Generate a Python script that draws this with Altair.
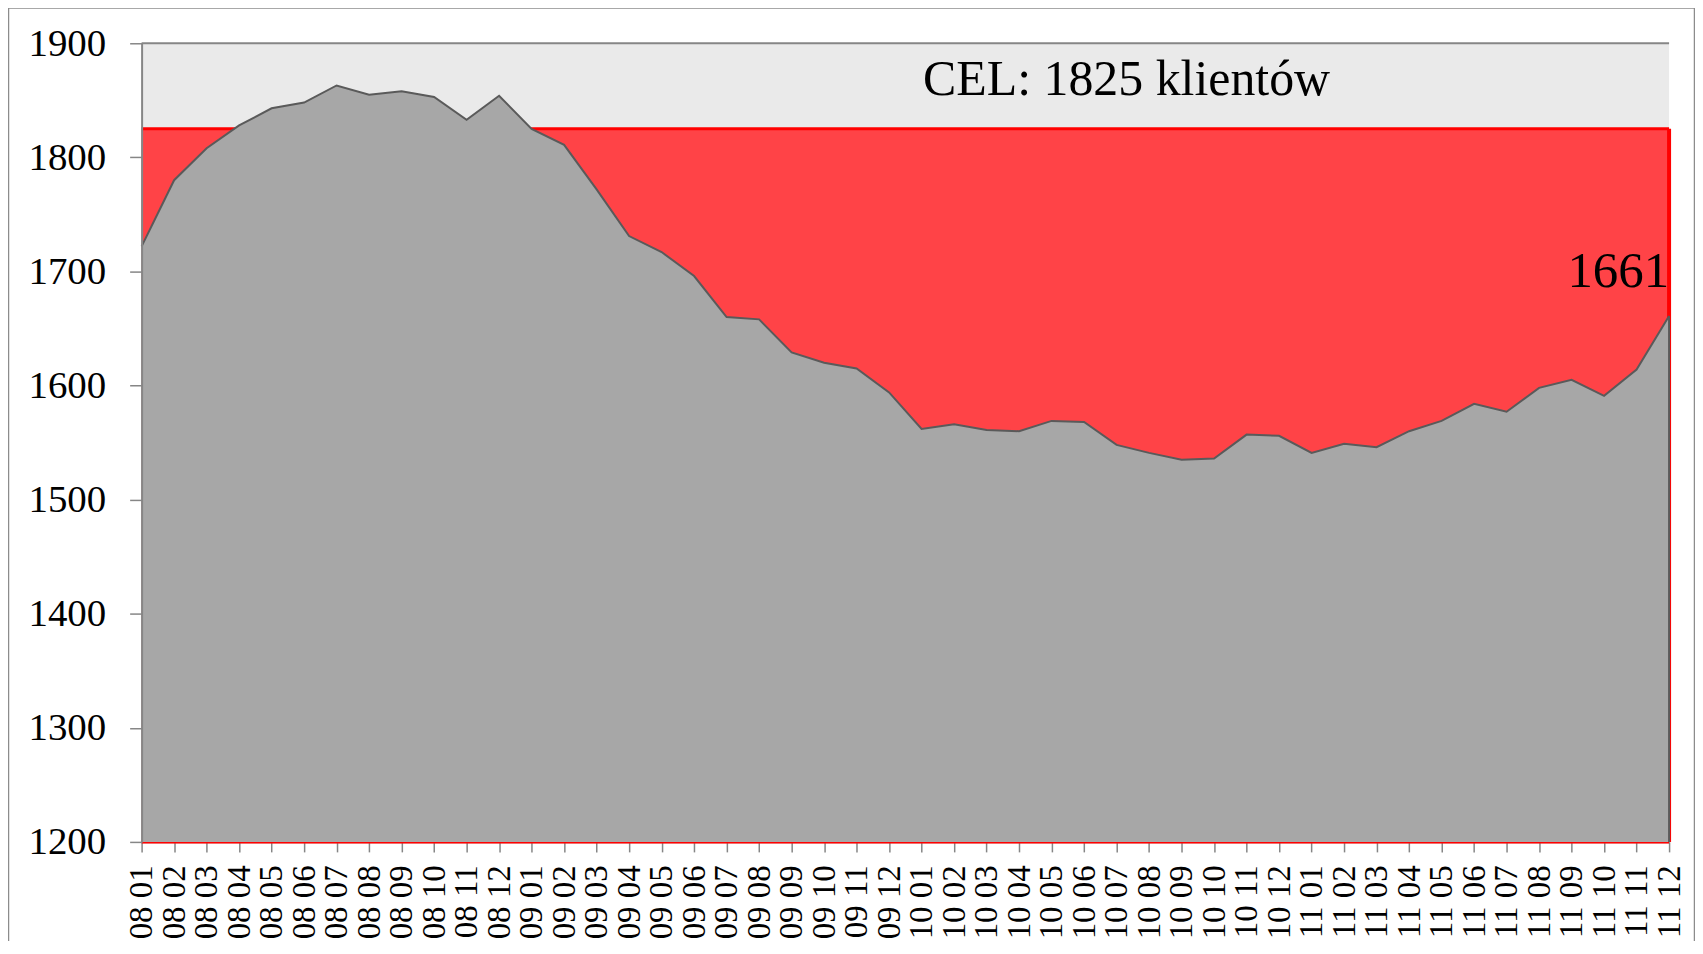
import altair as alt
import pandas as pd

# Categories: year-month labels from 08 01 to 11 12
months = [f"{y:02d} {m:02d}" for y in (8, 9, 10, 11) for m in range(1, 13)]

# Number of clients per month
clients = [
    1722, 1780, 1808, 1828, 1843, 1848, 1863, 1855, 1858, 1853, 1833, 1854,
    1825, 1811, 1772, 1731, 1717, 1696, 1660, 1658, 1629, 1620, 1615, 1594,
    1562, 1566, 1561, 1560, 1569, 1568, 1548, 1541, 1535, 1536, 1557, 1556,
    1541, 1549, 1546, 1560, 1569, 1584, 1577, 1598, 1605, 1591, 1614, 1661,
]

target = 1825
axis_min = 1200
axis_max = 1900
y_ticks = [1200, 1300, 1400, 1500, 1600, 1700, 1800, 1900]
target_label = "CEL: 1825 klientów"
target_label_month = "10 07"

df = pd.DataFrame({
    "month": months,
    "clients": clients,
    "target": [target] * len(months),
    "top": [axis_max] * len(months),
    "base": [axis_min] * len(months),
})
last = df.tail(1)

FONT = "Liberation Serif"
GRAY_AXIS = "#868686"
RED_LINE = "#FF0000"

x_enc = alt.X(
    "month:O",
    sort=months,
    scale=alt.Scale(type="point", padding=0),
    axis=alt.Axis(
        title=None,
        labelAngle=270,
        labelFont=FONT,
        labelFontSize=33,
        labelColor="#000000",
        labelPadding=13,
        labelOverlap=False,
        tickSize=10,
        tickColor=GRAY_AXIS,
        tickWidth=1.5,
        domainColor=GRAY_AXIS,
        domainWidth=1.5,
    ),
)
y_scale = alt.Scale(domain=[axis_min, axis_max], nice=False, zero=False)
y_axis = alt.Axis(
    title=None,
    values=y_ticks,
    format="d",
    labelFont=FONT,
    labelFontSize=39,
    labelColor="#000000",
    labelPadding=24,
    tickSize=12,
    tickColor=GRAY_AXIS,
    tickWidth=1.5,
    domainColor=GRAY_AXIS,
    domainWidth=2,
    grid=False,
    zindex=1,
)

base = alt.Chart(df)

band = base.mark_area(color="#EAEAEA").encode(
    x=x_enc, y=alt.Y("top:Q", scale=y_scale, axis=y_axis), y2="target:Q"
)
red = base.mark_area(color="#FF4347").encode(
    x=x_enc, y=alt.Y("target:Q", scale=y_scale), y2="base:Q"
)
red_top = alt.Chart(pd.DataFrame({"v": [target]})).mark_rule(
    color=RED_LINE, strokeWidth=3
).encode(y=alt.Y("v:Q", scale=y_scale))
red_bottom = alt.Chart(pd.DataFrame({"v": [axis_min]})).mark_rule(
    color=RED_LINE, strokeWidth=3
).encode(y=alt.Y("v:Q", scale=y_scale))
red_right = alt.Chart(last).mark_rule(color=RED_LINE, strokeWidth=4).encode(
    x=x_enc, y=alt.Y("target:Q", scale=y_scale), y2="base:Q"
)
gray = base.mark_area(color="#A7A7A7").encode(
    x=x_enc, y=alt.Y("clients:Q", scale=y_scale), y2="base:Q"
)
line = base.mark_line(color="#5A5A5A", strokeWidth=2).encode(
    x=x_enc, y=alt.Y("clients:Q", scale=y_scale)
)
right_edge = alt.Chart(last).mark_rule(color="#5A5A5A", strokeWidth=2).encode(
    x=x_enc, y=alt.Y("clients:Q", scale=y_scale), y2="base:Q"
)
top_rule = alt.Chart(pd.DataFrame({"top": [axis_max]})).mark_rule(
    color=GRAY_AXIS, strokeWidth=2
).encode(y=alt.Y("top:Q", scale=y_scale))

cel_df = pd.DataFrame({
    "month": [target_label_month],
    "mid": [(target + axis_max) / 2],
    "label": [target_label],
})
cel_text = alt.Chart(cel_df).mark_text(
    font=FONT, fontSize=50, color="#000000", align="center", baseline="middle",
    dy=-6, dx=10,
).encode(x=x_enc, y=alt.Y("mid:Q", scale=y_scale), text="label:N")

last_text = alt.Chart(last).mark_text(
    font=FONT, fontSize=51, color="#000000", align="right", baseline="middle",
    dy=-44, dx=0,
).encode(x=x_enc, y=alt.Y("clients:Q", scale=y_scale), text="clients:Q")

frame = alt.Chart(pd.DataFrame({"a": [0]})).mark_rect(
    fill="transparent", stroke="#8C8C8C", strokeWidth=2.5
).encode(
    x=alt.value(-134), x2=alt.value(1558), y=alt.value(-36), y2=alt.value(930)
)

chart = alt.layer(
    band, red, red_top, red_bottom, red_right, gray, line, right_edge,
    top_rule, cel_text, last_text, frame
).properties(
    width=1532,
    height=801,
    autosize=alt.AutoSizeParams(type="none"),
    padding={"left": 134, "top": 34, "right": 26, "bottom": 98},
    background="#FFFFFF",
).configure_view(strokeWidth=0)

chart.save("out.html", embed_options={"renderer": "svg", "actions": False})
